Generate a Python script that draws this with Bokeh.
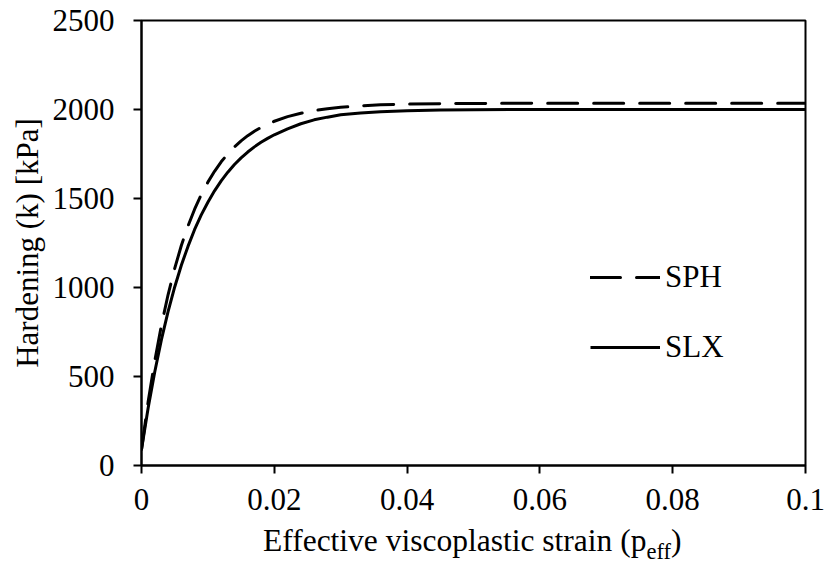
from bokeh.plotting import figure
from bokeh.models import Range1d, FixedTicker, Legend, LegendItem, Div
from bokeh.layouts import column
from bokeh.embed import file_html
from bokeh.resources import INLINE

# ---- data ----
strain = [0, 0.001, 0.002, 0.003, 0.004, 0.005, 0.006, 0.007, 0.008, 0.009,
          0.010, 0.011, 0.012, 0.013, 0.014, 0.015, 0.016, 0.017, 0.018, 0.019,
          0.020, 0.022, 0.024, 0.026, 0.028, 0.030, 0.033, 0.036, 0.040, 0.045,
          0.050, 0.060, 0.070, 0.080, 0.090, 0.100]
k_slx = [90, 323, 527, 707, 864, 1003, 1125, 1231, 1326, 1408,
         1479, 1543, 1599, 1648, 1691, 1728, 1761, 1790, 1816, 1838,
         1858, 1891, 1920, 1942, 1957, 1970, 1980, 1987, 1993, 1997,
         1999, 2000, 2000, 2000, 2000, 2000]
k_sph = [90, 358, 588, 788, 959, 1107, 1236, 1345, 1440, 1522,
         1592, 1653, 1706, 1751, 1790, 1824, 1853, 1878, 1899, 1918,
         1934, 1960, 1979, 1994, 2004, 2012, 2020, 2026, 2030, 2033,
         2034, 2035, 2035, 2035, 2035, 2035]
series_names = ["SPH", "SLX"]
x_ticks = [0, 0.02, 0.04, 0.06, 0.08, 0.1]
x_tick_labels = ["0", "0.02", "0.04", "0.06", "0.08", "0.1"]
y_ticks = [0, 500, 1000, 1500, 2000, 2500]
y_label = "Hardening (k) [kPa]"
x_label_main = "Effective viscoplastic strain (p"
x_label_sub = "eff"
x_label_end = ")"

FONT = "Liberation Serif"
FS = "31px"

p = figure(width=825, height=525, output_backend="svg", toolbar_location=None,
           x_range=Range1d(0, 0.1), y_range=Range1d(0, 2500),
           min_border_left=141, min_border_right=20, min_border_top=20,
           min_border_bottom=60, margin=0)
p.xgrid.visible = False
p.ygrid.visible = False
p.outline_line_color = "black"
p.outline_line_width = 2
p.background_fill_color = "white"
p.border_fill_color = "white"

for ax in (p.xaxis[0], p.yaxis[0]):
    ax.axis_line_width = 2
    ax.axis_line_color = "black"
    ax.major_tick_line_width = 2
    ax.major_tick_line_color = "black"
    ax.major_tick_out = 8
    ax.major_tick_in = 0
    ax.minor_tick_line_color = None
    ax.major_label_text_font = FONT
    ax.major_label_text_font_size = FS
    ax.major_label_text_color = "black"

p.xaxis[0].ticker = FixedTicker(ticks=x_ticks)
p.xaxis[0].major_label_overrides = {t: l for t, l in zip(x_ticks, x_tick_labels)}
p.xaxis[0].major_label_standoff = 15
p.yaxis[0].ticker = FixedTicker(ticks=y_ticks)
p.yaxis[0].major_label_standoff = 19
p.yaxis[0].axis_label = y_label
p.yaxis[0].axis_label_text_font = FONT
p.yaxis[0].axis_label_text_font_size = FS
p.yaxis[0].axis_label_text_font_style = "normal"
p.yaxis[0].axis_label_text_color = "black"
p.yaxis[0].axis_label_standoff = 5

r_sph = p.line(strain, k_sph, line_color="black", line_width=3,
               line_dash="30 16", line_cap="round", line_join="round")
r_slx = p.line(strain, k_slx, line_color="black", line_width=3,
               line_join="round")

legend = Legend(items=[LegendItem(label=series_names[0], renderers=[r_sph]),
                       LegendItem(label=series_names[1], renderers=[r_slx])],
                location=(449, 100), glyph_width=70, glyph_height=30,
                label_height=30, spacing=34, padding=0, margin=0,
                label_standoff=5, border_line_alpha=0, background_fill_alpha=0,
                label_text_font=FONT, label_text_font_size=FS,
                label_text_color="black")
p.add_layout(legend)

# x-axis title with a subscript
div = Div(
    text=(f'<span style="font-family:\'Liberation Serif\';font-size:31.5px;'
          f'line-height:31px;color:black;white-space:nowrap;">{x_label_main}'
          f'<span style="font-size:22.5px;position:relative;top:8px;">{x_label_sub}</span>'
          f'{x_label_end}</span>'),
    width=825, height=40, margin=0,
    styles={"padding-left": "263px", "box-sizing": "border-box"})

layout = column(p, div, spacing=0)
open("out.html", "w").write(file_html(layout, INLINE))
